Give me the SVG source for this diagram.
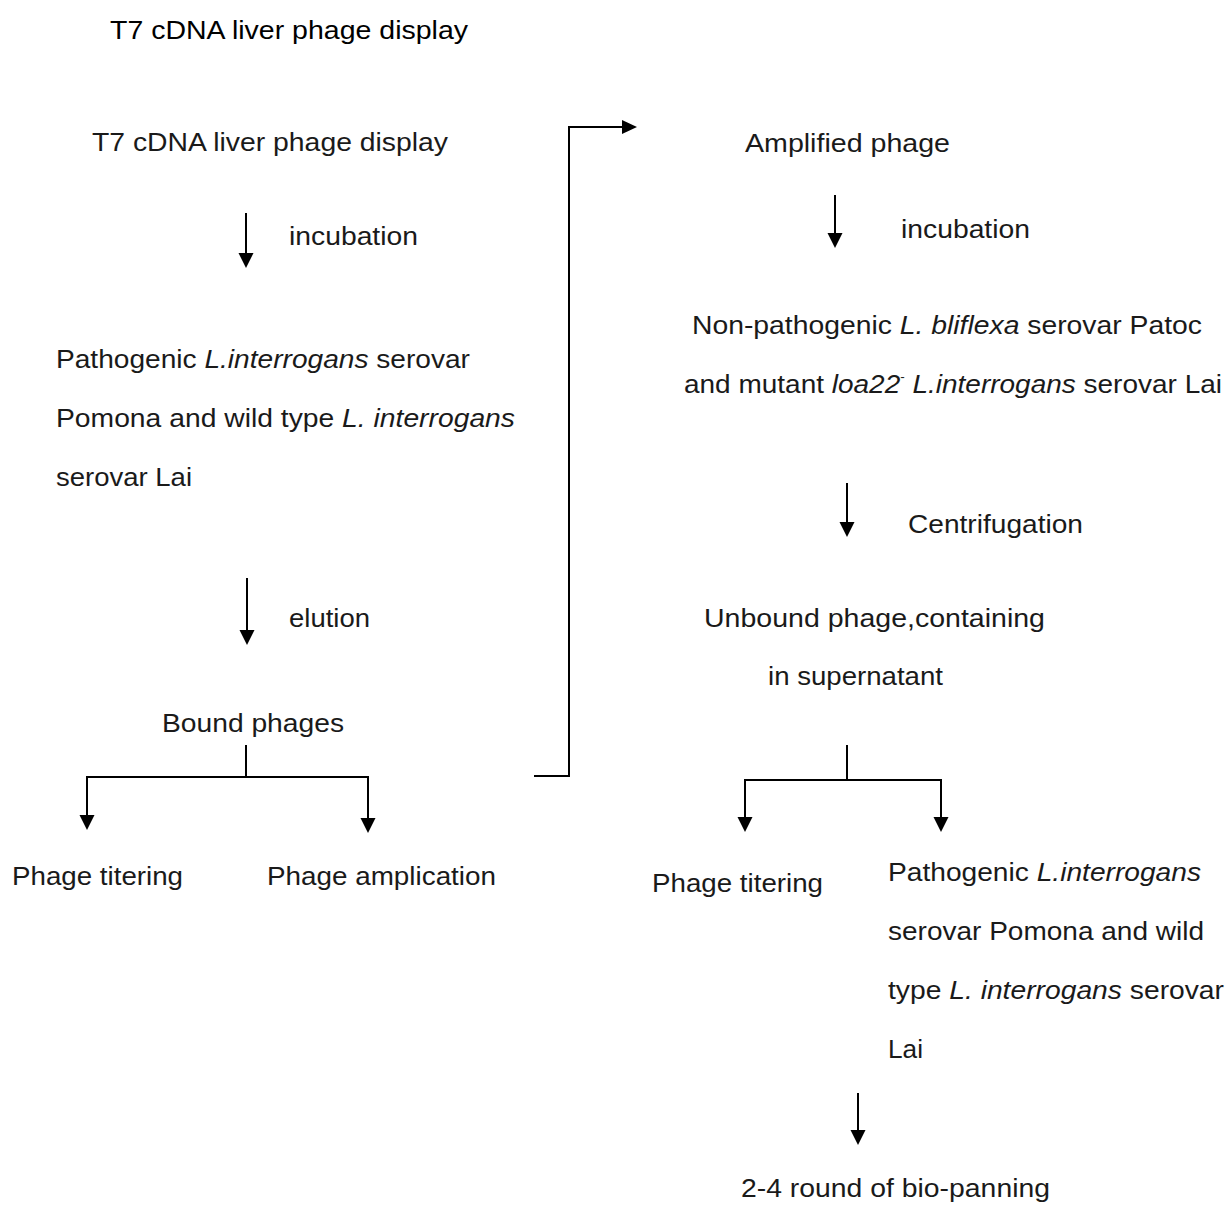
<svg xmlns="http://www.w3.org/2000/svg" width="1231" height="1213" viewBox="0 0 1231 1213">
<style>
  text { font-family: "Liberation Sans", Arial, sans-serif; font-size: 25px; fill: #1a1a1a; }
  .title { font-size: 25px; fill: #000; }
  .it { font-style: italic; }
  .sup { font-size: 12px; }
  .ln { stroke: #000; stroke-width: 2; fill: none; }
  .hd { fill: #000; stroke: none; }
</style>
<defs>
  <path id="down" d="M-7.5,0 L7.5,0 L0,15 Z"/>
</defs>
<rect width="1231" height="1213" fill="#fff"/>

<g id="title">
  <text class="title" x="110" y="39" textLength="358" lengthAdjust="spacingAndGlyphs">T7 cDNA liver phage display</text>
</g>

<g id="node-library">
  <text x="92" y="151" textLength="356" lengthAdjust="spacingAndGlyphs">T7 cDNA liver phage display</text>
</g>
<g id="label-incubation-1">
  <text x="289" y="245" textLength="129" lengthAdjust="spacingAndGlyphs">incubation</text>
</g>
<g id="node-pathogenic">
  <text x="56" y="368" textLength="414" lengthAdjust="spacingAndGlyphs">Pathogenic <tspan class="it">L.interrogans</tspan> serovar</text>
  <text x="56" y="427" textLength="459" lengthAdjust="spacingAndGlyphs">Pomona and wild type <tspan class="it">L. interrogans</tspan></text>
  <text x="56" y="486" textLength="136" lengthAdjust="spacingAndGlyphs">serovar Lai</text>
</g>
<g id="label-elution">
  <text x="289" y="627" textLength="81" lengthAdjust="spacingAndGlyphs">elution</text>
</g>
<g id="node-bound">
  <text x="162" y="732" textLength="182" lengthAdjust="spacingAndGlyphs">Bound phages</text>
</g>
<g id="node-titering-1">
  <text x="12" y="885" textLength="171" lengthAdjust="spacingAndGlyphs">Phage titering</text>
</g>
<g id="node-amplication">
  <text x="267" y="885" textLength="229" lengthAdjust="spacingAndGlyphs">Phage amplication</text>
</g>

<g id="node-amplified">
  <text x="745" y="152" textLength="205" lengthAdjust="spacingAndGlyphs">Amplified phage</text>
</g>
<g id="label-incubation-2">
  <text x="901" y="238" textLength="129" lengthAdjust="spacingAndGlyphs">incubation</text>
</g>
<g id="node-nonpathogenic">
  <text x="692" y="334" textLength="510" lengthAdjust="spacingAndGlyphs">Non-pathogenic <tspan class="it">L. bliflexa</tspan> serovar Patoc</text>
  <text x="684" y="393" textLength="538" lengthAdjust="spacingAndGlyphs">and mutant <tspan class="it">loa22</tspan><tspan class="sup" dy="-12">-</tspan><tspan dy="12"> </tspan><tspan class="it">L.interrogans</tspan> serovar Lai</text>
</g>
<g id="label-centrifugation">
  <text x="908" y="533" textLength="175" lengthAdjust="spacingAndGlyphs">Centrifugation</text>
</g>
<g id="node-unbound">
  <text x="704" y="627" textLength="341" lengthAdjust="spacingAndGlyphs">Unbound phage,containing</text>
  <text x="768" y="685" textLength="175" lengthAdjust="spacingAndGlyphs">in supernatant</text>
</g>
<g id="node-titering-2">
  <text x="652" y="892" textLength="171" lengthAdjust="spacingAndGlyphs">Phage titering</text>
</g>
<g id="node-pathogenic-2">
  <text x="888" y="881" textLength="313" lengthAdjust="spacingAndGlyphs">Pathogenic <tspan class="it">L.interrogans</tspan></text>
  <text x="888" y="940" textLength="316" lengthAdjust="spacingAndGlyphs">serovar Pomona and wild</text>
  <text x="888" y="999" textLength="336" lengthAdjust="spacingAndGlyphs">type <tspan class="it">L. interrogans</tspan> serovar</text>
  <text x="888" y="1058" textLength="35" lengthAdjust="spacingAndGlyphs">Lai</text>
</g>
<g id="node-biopanning">
  <text x="741" y="1197" textLength="309" lengthAdjust="spacingAndGlyphs">2-4 round of bio-panning</text>
</g>

<g id="connectors">
  <line class="ln" x1="246" y1="213" x2="246" y2="255"/>
  <use href="#down" class="hd" x="246" y="253"/>
  <line class="ln" x1="247" y1="578" x2="247" y2="632"/>
  <use href="#down" class="hd" x="247" y="630"/>
  <polyline class="ln" points="246,745 246,777"/>
  <polyline class="ln" points="87,817 87,777 368,777 368,820"/>
  <use href="#down" class="hd" x="87" y="815"/>
  <use href="#down" class="hd" x="368" y="818"/>
  <polyline class="ln" points="534,776 569,776 569,127 624,127"/>
  <path class="hd" d="M622,120 L637,127 L622,134 Z"/>
  <line class="ln" x1="835" y1="195" x2="835" y2="235"/>
  <use href="#down" class="hd" x="835" y="233"/>
  <line class="ln" x1="847" y1="483" x2="847" y2="524"/>
  <use href="#down" class="hd" x="847" y="522"/>
  <polyline class="ln" points="847,745 847,780"/>
  <polyline class="ln" points="745,819 745,780 941,780 941,819"/>
  <use href="#down" class="hd" x="745" y="817"/>
  <use href="#down" class="hd" x="941" y="817"/>
  <line class="ln" x1="858" y1="1093" x2="858" y2="1132"/>
  <use href="#down" class="hd" x="858" y="1130"/>
</g>
</svg>
